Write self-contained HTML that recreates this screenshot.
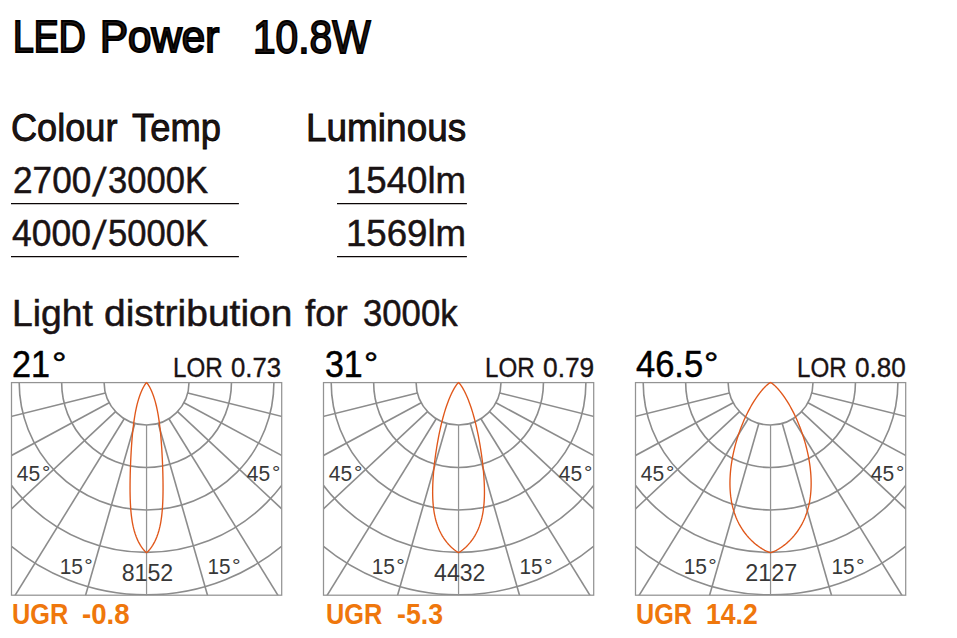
<!DOCTYPE html>
<html lang="en">
<head>
<meta charset="utf-8">
<title>LED Power 10.8W</title>
<style>
html,body{margin:0;padding:0;background:#fff;}
body{width:957px;height:638px;position:relative;overflow:hidden;font-family:"Liberation Sans",sans-serif;}
.t{position:absolute;white-space:pre;line-height:1;transform-origin:0 0;margin:0;}
svg{position:absolute;left:0;top:0;}
svg text{font-family:"Liberation Sans",sans-serif;}
</style>
</head>
<body>

<div class="t" style="left:12.93px;top:14px;font-size:45.20px;font-weight:400;color:#231815;-webkit-text-stroke:2.10px #000;transform:scaleX(0.8258);">LED</div>
<div class="t" style="left:99.96px;top:14px;font-size:45.20px;font-weight:400;color:#231815;-webkit-text-stroke:2.10px #000;transform:scaleX(0.9303);">Power</div>
<div class="t" style="left:253.16px;top:14px;font-size:46.20px;font-weight:400;color:#231815;-webkit-text-stroke:1.80px #000;transform:scaleX(0.8805);">10.8W</div>
<div class="t" style="left:11.21px;top:109px;font-size:38.40px;font-weight:400;color:#1f1514;-webkit-text-stroke:0.80px #000;transform:scaleX(0.9412);">Colour</div>
<div class="t" style="left:131.53px;top:109px;font-size:38.40px;font-weight:400;color:#1f1514;-webkit-text-stroke:0.80px #000;transform:scaleX(0.9472);">Temp</div>
<div class="t" style="left:306.01px;top:109px;font-size:38.40px;font-weight:400;color:#1f1514;-webkit-text-stroke:0.80px #000;transform:scaleX(0.9624);">Luminous</div>
<div class="t" style="left:12.60px;top:162px;font-size:37.60px;font-weight:400;color:#1a1314;-webkit-text-stroke:0.50px #1a1314;transform:scaleX(0.9364);">2700</div>
<div class="t" style="left:96.31px;top:162px;font-size:40.53px;font-weight:400;color:#1a1314;-webkit-text-stroke:0.30px #1a1314;transform:skewX(-6.84deg) scaleX(1.0000);">/</div>
<div class="t" style="left:107.67px;top:162px;font-size:37.60px;font-weight:400;color:#1a1314;-webkit-text-stroke:0.50px #1a1314;transform:scaleX(0.9202);">3000K</div>
<div class="t" style="left:345.66px;top:162px;font-size:37.60px;font-weight:400;color:#1a1314;-webkit-text-stroke:0.50px #1a1314;transform:scaleX(0.9746);">1540lm</div>
<div class="t" style="left:12.00px;top:215px;font-size:37.60px;font-weight:400;color:#1a1314;-webkit-text-stroke:0.50px #1a1314;transform:scaleX(0.9437);">4000</div>
<div class="t" style="left:96.31px;top:215px;font-size:40.53px;font-weight:400;color:#1a1314;-webkit-text-stroke:0.30px #1a1314;transform:skewX(-6.84deg) scaleX(1.0000);">/</div>
<div class="t" style="left:107.67px;top:215px;font-size:37.60px;font-weight:400;color:#1a1314;-webkit-text-stroke:0.50px #1a1314;transform:scaleX(0.9202);">5000K</div>
<div class="t" style="left:345.66px;top:215px;font-size:37.60px;font-weight:400;color:#1a1314;-webkit-text-stroke:0.50px #1a1314;transform:scaleX(0.9746);">1569lm</div>
<div class="t" style="left:11.93px;top:295px;font-size:37.60px;font-weight:400;color:#1a1314;-webkit-text-stroke:0.50px #1a1314;transform:scaleX(0.9933);">Light</div>
<div class="t" style="left:104.33px;top:295px;font-size:37.60px;font-weight:400;color:#1a1314;-webkit-text-stroke:0.50px #1a1314;transform:scaleX(1.0367);">distribution</div>
<div class="t" style="left:304.95px;top:295px;font-size:37.60px;font-weight:400;color:#1a1314;-webkit-text-stroke:0.50px #1a1314;transform:scaleX(0.9749);">for</div>
<div class="t" style="left:363.26px;top:295px;font-size:37.60px;font-weight:400;color:#1a1314;-webkit-text-stroke:0.50px #1a1314;transform:scaleX(0.9238);">3000k</div>
<div class="t" style="left:12.45px;top:346px;font-size:37.60px;font-weight:400;color:#000;-webkit-text-stroke:0.50px #000;transform:scaleX(0.9082);">21</div>
<div class="t" style="left:324.69px;top:346px;font-size:37.60px;font-weight:400;color:#000;-webkit-text-stroke:0.50px #000;transform:scaleX(0.9023);">31</div>
<div class="t" style="left:635.71px;top:346px;font-size:37.60px;font-weight:400;color:#000;-webkit-text-stroke:0.50px #000;transform:scaleX(0.9174);">46.5</div>
<div class="t" style="left:51.84px;top:347px;font-size:32.00px;font-weight:400;color:#000;-webkit-text-stroke:0.50px #000;transform:scaleX(1.1368);">°</div>
<div class="t" style="left:364.29px;top:347px;font-size:32.00px;font-weight:400;color:#000;-webkit-text-stroke:0.50px #000;transform:scaleX(1.1053);">°</div>
<div class="t" style="left:703.86px;top:347px;font-size:32.00px;font-weight:400;color:#000;-webkit-text-stroke:0.50px #000;transform:scaleX(1.1263);">°</div>
<div class="t" style="left:173.09px;top:354px;font-size:27.80px;font-weight:400;color:#1a1314;-webkit-text-stroke:0.35px #1a1314;transform:scaleX(0.8690);">LOR</div>
<div class="t" style="left:230.87px;top:354px;font-size:27.80px;font-weight:400;color:#1a1314;-webkit-text-stroke:0.35px #1a1314;transform:scaleX(0.9259);">0.73</div>
<div class="t" style="left:485.09px;top:354px;font-size:27.80px;font-weight:400;color:#1a1314;-webkit-text-stroke:0.35px #1a1314;transform:scaleX(0.8690);">LOR</div>
<div class="t" style="left:542.85px;top:354px;font-size:27.80px;font-weight:400;color:#1a1314;-webkit-text-stroke:0.35px #1a1314;transform:scaleX(0.9470);">0.79</div>
<div class="t" style="left:797.09px;top:354px;font-size:27.80px;font-weight:400;color:#1a1314;-webkit-text-stroke:0.35px #1a1314;transform:scaleX(0.8690);">LOR</div>
<div class="t" style="left:854.86px;top:354px;font-size:27.80px;font-weight:400;color:#1a1314;-webkit-text-stroke:0.35px #1a1314;transform:scaleX(0.9411);">0.80</div>
<div class="t" style="left:11.81px;top:599px;font-size:30.20px;font-weight:700;color:#ef770c;transform:scaleX(0.8385);">UGR</div>
<div class="t" style="left:81.84px;top:599px;font-size:30.20px;font-weight:700;color:#ef770c;transform:scaleX(0.9157);">-0.8</div>
<div class="t" style="left:326.41px;top:599px;font-size:30.20px;font-weight:700;color:#ef770c;transform:scaleX(0.8385);">UGR</div>
<div class="t" style="left:396.97px;top:599px;font-size:30.20px;font-weight:700;color:#ef770c;transform:scaleX(0.8839);">-5.3</div>
<div class="t" style="left:636.42px;top:599px;font-size:30.20px;font-weight:700;color:#ef770c;transform:scaleX(0.8339);">UGR</div>
<div class="t" style="left:705.84px;top:599px;font-size:30.20px;font-weight:700;color:#ef770c;transform:scaleX(0.8817);">14.2</div>
<svg width="957" height="638" viewBox="0 0 957 638">
<defs>
<clipPath id="c_d1"><rect x="11.50" y="382.60" width="270.20" height="212.60"/></clipPath>
<clipPath id="c_d2"><rect x="323.50" y="382.60" width="270.20" height="212.60"/></clipPath>
<clipPath id="c_d3"><rect x="635.50" y="382.60" width="270.20" height="212.60"/></clipPath>
</defs>
<line x1="11.0" y1="203.50" x2="238.9" y2="203.50" stroke="#0b0606" stroke-width="1.25"/>
<line x1="337.0" y1="203.50" x2="466.9" y2="203.50" stroke="#0b0606" stroke-width="1.25"/>
<line x1="11.0" y1="256.50" x2="238.9" y2="256.50" stroke="#0b0606" stroke-width="1.25"/>
<line x1="337.0" y1="256.50" x2="466.9" y2="256.50" stroke="#0b0606" stroke-width="1.25"/>
<g fill="none" stroke="#8c8c8c" stroke-width="1.6" clip-path="url(#c_d1)">
<circle cx="146.55" cy="382.60" r="42.45"/>
<circle cx="146.55" cy="382.60" r="84.90"/>
<circle cx="146.55" cy="382.60" r="127.35"/>
<circle cx="146.55" cy="382.60" r="169.80"/>
<circle cx="146.55" cy="382.60" r="212.25"/>
<circle cx="146.55" cy="382.60" r="254.70"/>
<circle cx="146.55" cy="382.60" r="297.15"/>
<line x1="146.55" y1="425.05" x2="146.55" y2="782.60" stroke="#939393" stroke-width="1.25"/>
<line x1="134.85" y1="423.41" x2="36.31" y2="767.11"/>
<line x1="158.25" y1="423.41" x2="256.79" y2="767.11"/>
<line x1="124.24" y1="418.71" x2="-63.68" y2="722.90"/>
<line x1="168.86" y1="418.71" x2="356.78" y2="722.90"/>
<line x1="115.54" y1="411.59" x2="-145.69" y2="655.72"/>
<line x1="177.56" y1="411.59" x2="438.79" y2="655.72"/>
<line x1="109.19" y1="402.76" x2="-205.47" y2="572.55"/>
<line x1="183.91" y1="402.76" x2="498.57" y2="572.55"/>
<line x1="105.37" y1="392.91" x2="-241.47" y2="479.77"/>
<line x1="187.73" y1="392.91" x2="534.57" y2="479.77"/>
</g>
<rect x="11.50" y="382.60" width="270.20" height="212.60" fill="none" stroke="#939393" stroke-width="1.25"/>
<path d="M146.55 382.60L147.12 383.19L147.57 383.77L147.98 384.36L148.36 384.94L148.73 385.53L149.08 386.12L149.41 386.70L149.73 387.29L150.04 387.88L150.34 388.46L150.63 389.05L150.91 389.63L151.18 390.22L151.44 390.81L151.70 391.39L151.95 391.98L152.19 392.57L152.42 393.15L152.65 393.74L152.87 394.32L153.09 394.91L153.30 395.50L153.51 396.08L153.71 396.67L153.91 397.26L154.10 397.84L154.29 398.43L154.47 399.01L154.65 399.60L155.31 401.91L155.92 404.21L156.48 406.52L156.99 408.82L157.46 411.13L157.89 413.43L158.29 415.74L158.66 418.04L159.01 420.35L159.33 422.65L159.62 424.96L159.90 427.26L160.16 429.57L160.40 431.87L160.62 434.18L160.83 436.48L161.03 438.79L161.22 441.09L161.39 443.40L161.55 445.70L161.71 448.01L161.85 450.31L161.98 452.62L162.11 454.92L162.23 457.23L162.34 459.53L162.44 461.84L162.54 464.14L162.63 466.45L162.71 468.75L162.78 471.06L162.85 473.36L162.90 475.67L162.95 477.97L162.99 480.28L163.02 482.58L163.04 484.89L163.05 487.19L163.05 489.50L163.03 491.80L163.00 494.11L162.95 496.41L162.89 498.72L162.81 501.02L162.71 503.33L162.58 505.63L162.43 507.94L162.26 510.24L162.05 512.55L161.81 514.85L161.53 517.16L161.21 519.46L160.84 521.77L160.42 524.07L159.94 526.38L159.40 528.68L158.79 530.99L158.09 533.29L157.31 535.60L157.05 536.29L156.80 536.96L156.53 537.62L156.27 538.26L156.00 538.89L155.73 539.51L155.46 540.11L155.18 540.70L154.90 541.27L154.63 541.83L154.34 542.38L154.06 542.91L153.78 543.42L153.49 543.93L153.21 544.42L152.93 544.89L152.65 545.35L152.36 545.80L152.08 546.23L151.81 546.65L151.53 547.05L151.26 547.44L150.99 547.81L150.72 548.17L150.46 548.52L150.20 548.85L149.95 549.17L149.70 549.48L149.45 549.77L149.22 550.04L148.99 550.31L148.77 550.55L148.55 550.79L148.34 551.01L148.15 551.21L147.96 551.40L147.78 551.58L147.60 551.74L147.44 551.89L147.30 552.03L147.16 552.15L147.03 552.25L146.92 552.35L146.82 552.42L146.73 552.49L146.66 552.54L146.60 552.57L146.57 552.59L146.55 552.60L146.53 552.59L146.50 552.57L146.44 552.54L146.37 552.49L146.28 552.42L146.18 552.35L146.07 552.25L145.94 552.15L145.80 552.03L145.66 551.89L145.50 551.74L145.32 551.58L145.14 551.40L144.95 551.21L144.76 551.01L144.55 550.79L144.33 550.55L144.11 550.31L143.88 550.04L143.65 549.77L143.40 549.48L143.15 549.17L142.90 548.85L142.64 548.52L142.38 548.17L142.11 547.81L141.84 547.44L141.57 547.05L141.29 546.65L141.02 546.23L140.74 545.80L140.45 545.35L140.17 544.89L139.89 544.42L139.61 543.93L139.32 543.42L139.04 542.91L138.76 542.38L138.47 541.83L138.20 541.27L137.92 540.70L137.64 540.11L137.37 539.51L137.10 538.89L136.83 538.26L136.57 537.62L136.30 536.96L136.05 536.29L135.79 535.60L135.01 533.29L134.31 530.99L133.70 528.68L133.16 526.38L132.68 524.07L132.26 521.77L131.89 519.46L131.57 517.16L131.29 514.85L131.05 512.55L130.84 510.24L130.67 507.94L130.52 505.63L130.39 503.33L130.29 501.02L130.21 498.72L130.15 496.41L130.10 494.11L130.07 491.80L130.05 489.50L130.05 487.19L130.06 484.89L130.08 482.58L130.11 480.28L130.15 477.97L130.20 475.67L130.25 473.36L130.32 471.06L130.39 468.75L130.47 466.45L130.56 464.14L130.66 461.84L130.76 459.53L130.87 457.23L130.99 454.92L131.12 452.62L131.25 450.31L131.39 448.01L131.55 445.70L131.71 443.40L131.88 441.09L132.07 438.79L132.27 436.48L132.48 434.18L132.70 431.87L132.94 429.57L133.20 427.26L133.48 424.96L133.77 422.65L134.09 420.35L134.44 418.04L134.81 415.74L135.21 413.43L135.64 411.13L136.11 408.82L136.62 406.52L137.18 404.21L137.79 401.91L138.45 399.60L138.63 399.01L138.81 398.43L139.00 397.84L139.19 397.26L139.39 396.67L139.59 396.08L139.80 395.50L140.01 394.91L140.23 394.32L140.45 393.74L140.68 393.15L140.91 392.57L141.15 391.98L141.40 391.39L141.66 390.81L141.92 390.22L142.19 389.63L142.47 389.05L142.76 388.46L143.06 387.88L143.37 387.29L143.69 386.70L144.02 386.12L144.37 385.53L144.74 384.94L145.12 384.36L145.53 383.77L145.98 383.19L146.55 382.60Z" fill="none" stroke="#e0571a" stroke-width="1.35" stroke-linejoin="miter"/>
<text transform="translate(16.77 481.00) scale(0.9219 1)" font-size="22.80" fill="#383838">45</text>
<text transform="translate(41.92 479.26) scale(1.1071 1)" font-size="18.86" fill="#383838">°</text>
<text transform="translate(246.77 481.00) scale(0.9219 1)" font-size="22.80" fill="#383838">45</text>
<text transform="translate(271.92 479.26) scale(1.1071 1)" font-size="18.86" fill="#383838">°</text>
<text transform="translate(59.69 574.00) scale(0.9169 1)" font-size="22.80" fill="#383838">15</text>
<text transform="translate(84.31 572.26) scale(1.1250 1)" font-size="18.86" fill="#383838">°</text>
<text transform="translate(207.51 574.00) scale(0.9082 1)" font-size="22.80" fill="#383838">15</text>
<text transform="translate(231.89 572.26) scale(1.1429 1)" font-size="18.86" fill="#383838">°</text>
<text transform="translate(121.73 581.00) scale(0.9991 1)" font-size="23.20" fill="#383838">8152</text>
<g fill="none" stroke="#8c8c8c" stroke-width="1.6" clip-path="url(#c_d2)">
<circle cx="458.55" cy="382.60" r="42.45"/>
<circle cx="458.55" cy="382.60" r="84.90"/>
<circle cx="458.55" cy="382.60" r="127.35"/>
<circle cx="458.55" cy="382.60" r="169.80"/>
<circle cx="458.55" cy="382.60" r="212.25"/>
<circle cx="458.55" cy="382.60" r="254.70"/>
<circle cx="458.55" cy="382.60" r="297.15"/>
<line x1="458.55" y1="425.05" x2="458.55" y2="782.60" stroke="#939393" stroke-width="1.25"/>
<line x1="446.85" y1="423.41" x2="348.31" y2="767.11"/>
<line x1="470.25" y1="423.41" x2="568.79" y2="767.11"/>
<line x1="436.24" y1="418.71" x2="248.32" y2="722.90"/>
<line x1="480.86" y1="418.71" x2="668.78" y2="722.90"/>
<line x1="427.54" y1="411.59" x2="166.31" y2="655.72"/>
<line x1="489.56" y1="411.59" x2="750.79" y2="655.72"/>
<line x1="421.19" y1="402.76" x2="106.53" y2="572.55"/>
<line x1="495.91" y1="402.76" x2="810.57" y2="572.55"/>
<line x1="417.37" y1="392.91" x2="70.53" y2="479.77"/>
<line x1="499.73" y1="392.91" x2="846.57" y2="479.77"/>
</g>
<rect x="323.50" y="382.60" width="270.20" height="212.60" fill="none" stroke="#939393" stroke-width="1.25"/>
<path d="M458.55 382.60L459.24 383.19L459.76 383.77L460.23 384.36L460.67 384.94L461.08 385.53L461.47 386.12L461.85 386.70L462.22 387.29L462.57 387.88L462.92 388.46L463.25 389.05L463.57 389.63L463.89 390.22L464.20 390.81L464.51 391.39L464.80 391.98L465.09 392.57L465.38 393.15L465.66 393.74L465.93 394.32L466.20 394.91L466.47 395.50L466.73 396.08L466.98 396.67L467.23 397.26L467.48 397.84L467.72 398.43L467.96 399.01L468.20 399.60L469.09 401.91L469.94 404.21L470.74 406.52L471.50 408.82L472.23 411.13L472.92 413.43L473.58 415.74L474.21 418.04L474.82 420.35L475.40 422.65L475.96 424.96L476.50 427.26L477.01 429.57L477.51 431.87L477.99 434.18L478.44 436.48L478.89 438.79L479.31 441.09L479.72 443.40L480.11 445.70L480.49 448.01L480.85 450.31L481.20 452.62L481.53 454.92L481.85 457.23L482.15 459.53L482.43 461.84L482.70 464.14L482.96 466.45L483.19 468.75L483.41 471.06L483.61 473.36L483.80 475.67L483.96 477.97L484.10 480.28L484.22 482.58L484.32 484.89L484.39 487.19L484.43 489.50L484.45 491.80L484.44 494.11L484.39 496.41L484.31 498.72L484.19 501.02L484.03 503.33L483.83 505.63L483.57 507.94L483.27 510.24L482.92 512.55L482.50 514.85L482.01 517.16L481.46 519.46L480.83 521.77L480.11 524.07L479.30 526.38L478.39 528.68L477.37 530.99L476.23 533.29L474.95 535.60L474.54 536.29L474.13 536.96L473.71 537.62L473.28 538.26L472.86 538.89L472.43 539.51L472.00 540.11L471.56 540.70L471.12 541.27L470.68 541.83L470.25 542.38L469.81 542.91L469.37 543.42L468.93 543.93L468.49 544.42L468.05 544.89L467.62 545.35L467.19 545.80L466.76 546.23L466.34 546.65L465.92 547.05L465.51 547.44L465.10 547.81L464.70 548.17L464.30 548.52L463.92 548.85L463.54 549.17L463.17 549.48L462.81 549.77L462.46 550.04L462.12 550.31L461.79 550.55L461.47 550.79L461.17 551.01L460.87 551.21L460.59 551.40L460.33 551.58L460.08 551.74L459.85 551.89L459.63 552.03L459.43 552.15L459.24 552.25L459.08 552.35L458.93 552.42L458.81 552.49L458.71 552.54L458.63 552.57L458.57 552.59L458.55 552.60L458.53 552.59L458.47 552.57L458.39 552.54L458.29 552.49L458.17 552.42L458.02 552.35L457.86 552.25L457.67 552.15L457.47 552.03L457.25 551.89L457.02 551.74L456.77 551.58L456.51 551.40L456.23 551.21L455.93 551.01L455.63 550.79L455.31 550.55L454.98 550.31L454.64 550.04L454.29 549.77L453.93 549.48L453.56 549.17L453.18 548.85L452.80 548.52L452.40 548.17L452.00 547.81L451.59 547.44L451.18 547.05L450.76 546.65L450.34 546.23L449.91 545.80L449.48 545.35L449.05 544.89L448.61 544.42L448.17 543.93L447.73 543.42L447.29 542.91L446.85 542.38L446.42 541.83L445.98 541.27L445.54 540.70L445.10 540.11L444.67 539.51L444.24 538.89L443.82 538.26L443.39 537.62L442.97 536.96L442.56 536.29L442.15 535.60L440.87 533.29L439.73 530.99L438.71 528.68L437.80 526.38L436.99 524.07L436.27 521.77L435.64 519.46L435.09 517.16L434.60 514.85L434.18 512.55L433.83 510.24L433.53 507.94L433.27 505.63L433.07 503.33L432.91 501.02L432.79 498.72L432.71 496.41L432.66 494.11L432.65 491.80L432.67 489.50L432.71 487.19L432.78 484.89L432.88 482.58L433.00 480.28L433.14 477.97L433.30 475.67L433.49 473.36L433.69 471.06L433.91 468.75L434.14 466.45L434.40 464.14L434.67 461.84L434.95 459.53L435.25 457.23L435.57 454.92L435.90 452.62L436.25 450.31L436.61 448.01L436.99 445.70L437.38 443.40L437.79 441.09L438.21 438.79L438.66 436.48L439.11 434.18L439.59 431.87L440.09 429.57L440.60 427.26L441.14 424.96L441.70 422.65L442.28 420.35L442.89 418.04L443.52 415.74L444.18 413.43L444.87 411.13L445.60 408.82L446.36 406.52L447.16 404.21L448.01 401.91L448.90 399.60L449.14 399.01L449.38 398.43L449.62 397.84L449.87 397.26L450.12 396.67L450.37 396.08L450.63 395.50L450.90 394.91L451.17 394.32L451.44 393.74L451.72 393.15L452.01 392.57L452.30 391.98L452.59 391.39L452.90 390.81L453.21 390.22L453.53 389.63L453.85 389.05L454.18 388.46L454.53 387.88L454.88 387.29L455.25 386.70L455.63 386.12L456.02 385.53L456.43 384.94L456.87 384.36L457.34 383.77L457.86 383.19L458.55 382.60Z" fill="none" stroke="#e0571a" stroke-width="1.35" stroke-linejoin="miter"/>
<text transform="translate(328.77 481.00) scale(0.9219 1)" font-size="22.80" fill="#383838">45</text>
<text transform="translate(353.92 479.26) scale(1.1071 1)" font-size="18.86" fill="#383838">°</text>
<text transform="translate(558.77 481.00) scale(0.9219 1)" font-size="22.80" fill="#383838">45</text>
<text transform="translate(583.92 479.26) scale(1.1071 1)" font-size="18.86" fill="#383838">°</text>
<text transform="translate(371.69 574.00) scale(0.9169 1)" font-size="22.80" fill="#383838">15</text>
<text transform="translate(396.31 572.26) scale(1.1250 1)" font-size="18.86" fill="#383838">°</text>
<text transform="translate(519.51 574.00) scale(0.9082 1)" font-size="22.80" fill="#383838">15</text>
<text transform="translate(543.89 572.26) scale(1.1429 1)" font-size="18.86" fill="#383838">°</text>
<text transform="translate(434.09 581.00) scale(0.9919 1)" font-size="23.20" fill="#383838">4432</text>
<g fill="none" stroke="#8c8c8c" stroke-width="1.6" clip-path="url(#c_d3)">
<circle cx="770.55" cy="382.60" r="42.45"/>
<circle cx="770.55" cy="382.60" r="84.90"/>
<circle cx="770.55" cy="382.60" r="127.35"/>
<circle cx="770.55" cy="382.60" r="169.80"/>
<circle cx="770.55" cy="382.60" r="212.25"/>
<circle cx="770.55" cy="382.60" r="254.70"/>
<circle cx="770.55" cy="382.60" r="297.15"/>
<line x1="770.55" y1="425.05" x2="770.55" y2="782.60" stroke="#939393" stroke-width="1.25"/>
<line x1="758.85" y1="423.41" x2="660.31" y2="767.11"/>
<line x1="782.25" y1="423.41" x2="880.79" y2="767.11"/>
<line x1="748.24" y1="418.71" x2="560.32" y2="722.90"/>
<line x1="792.86" y1="418.71" x2="980.78" y2="722.90"/>
<line x1="739.54" y1="411.59" x2="478.31" y2="655.72"/>
<line x1="801.56" y1="411.59" x2="1062.79" y2="655.72"/>
<line x1="733.19" y1="402.76" x2="418.53" y2="572.55"/>
<line x1="807.91" y1="402.76" x2="1122.57" y2="572.55"/>
<line x1="729.37" y1="392.91" x2="382.53" y2="479.77"/>
<line x1="811.73" y1="392.91" x2="1158.57" y2="479.77"/>
</g>
<rect x="635.50" y="382.60" width="270.20" height="212.60" fill="none" stroke="#939393" stroke-width="1.25"/>
<path d="M770.55 382.60L771.72 383.19L772.56 383.77L773.31 384.36L774.01 384.94L774.66 385.53L775.29 386.12L775.88 386.70L776.46 387.29L777.02 387.88L777.57 388.46L778.10 389.05L778.61 389.63L779.12 390.22L779.61 390.81L780.09 391.39L780.57 391.98L781.03 392.57L781.49 393.15L781.93 393.74L782.38 394.32L782.81 394.91L783.24 395.50L783.66 396.08L784.07 396.67L784.48 397.26L784.88 397.84L785.27 398.43L785.67 399.01L786.05 399.60L787.52 401.91L788.91 404.21L790.25 406.52L791.52 408.82L792.74 411.13L793.91 413.43L795.03 415.74L796.10 418.04L797.13 420.35L798.12 422.65L799.06 424.96L799.97 427.26L800.84 429.57L801.67 431.87L802.47 434.18L803.23 436.48L803.96 438.79L804.65 441.09L805.31 443.40L805.94 445.70L806.53 448.01L807.09 450.31L807.61 452.62L808.10 454.92L808.56 457.23L808.98 459.53L809.36 461.84L809.71 464.14L810.03 466.45L810.31 468.75L810.55 471.06L810.75 473.36L810.91 475.67L811.03 477.97L811.11 480.28L811.15 482.58L811.14 484.89L811.09 487.19L810.99 489.50L810.84 491.80L810.63 494.11L810.38 496.41L810.06 498.72L809.69 501.02L809.26 503.33L808.76 505.63L808.19 507.94L807.55 510.24L806.83 512.55L806.04 514.85L805.15 517.16L804.18 519.46L803.11 521.77L801.93 524.07L800.64 526.38L799.23 528.68L797.69 530.99L796.00 533.29L794.15 535.60L793.56 536.29L792.97 536.96L792.38 537.62L791.78 538.26L791.19 538.89L790.59 539.51L789.98 540.11L789.38 540.70L788.78 541.27L788.17 541.83L787.57 542.38L786.96 542.91L786.36 543.42L785.76 543.93L785.16 544.42L784.56 544.89L783.97 545.35L783.38 545.80L782.80 546.23L782.22 546.65L781.64 547.05L781.07 547.44L780.51 547.81L779.95 548.17L779.41 548.52L778.87 548.85L778.33 549.17L777.81 549.48L777.30 549.77L776.80 550.04L776.31 550.31L775.83 550.55L775.37 550.79L774.92 551.01L774.48 551.21L774.06 551.40L773.65 551.58L773.26 551.74L772.89 551.89L772.54 552.03L772.21 552.15L771.90 552.25L771.61 552.35L771.35 552.42L771.12 552.49L770.91 552.54L770.74 552.57L770.62 552.59L770.55 552.60L770.48 552.59L770.36 552.57L770.19 552.54L769.98 552.49L769.75 552.42L769.49 552.35L769.20 552.25L768.89 552.15L768.56 552.03L768.21 551.89L767.84 551.74L767.45 551.58L767.04 551.40L766.62 551.21L766.18 551.01L765.73 550.79L765.27 550.55L764.79 550.31L764.30 550.04L763.80 549.77L763.29 549.48L762.77 549.17L762.23 548.85L761.69 548.52L761.15 548.17L760.59 547.81L760.03 547.44L759.46 547.05L758.88 546.65L758.30 546.23L757.72 545.80L757.13 545.35L756.54 544.89L755.94 544.42L755.34 543.93L754.74 543.42L754.14 542.91L753.53 542.38L752.93 541.83L752.32 541.27L751.72 540.70L751.12 540.11L750.51 539.51L749.91 538.89L749.32 538.26L748.72 537.62L748.13 536.96L747.54 536.29L746.95 535.60L745.10 533.29L743.41 530.99L741.87 528.68L740.46 526.38L739.17 524.07L737.99 521.77L736.92 519.46L735.95 517.16L735.06 514.85L734.27 512.55L733.55 510.24L732.91 507.94L732.34 505.63L731.84 503.33L731.41 501.02L731.04 498.72L730.72 496.41L730.47 494.11L730.26 491.80L730.11 489.50L730.01 487.19L729.96 484.89L729.95 482.58L729.99 480.28L730.07 477.97L730.19 475.67L730.35 473.36L730.55 471.06L730.79 468.75L731.07 466.45L731.39 464.14L731.74 461.84L732.12 459.53L732.54 457.23L733.00 454.92L733.49 452.62L734.01 450.31L734.57 448.01L735.16 445.70L735.79 443.40L736.45 441.09L737.14 438.79L737.87 436.48L738.63 434.18L739.43 431.87L740.26 429.57L741.13 427.26L742.04 424.96L742.98 422.65L743.97 420.35L745.00 418.04L746.07 415.74L747.19 413.43L748.36 411.13L749.58 408.82L750.85 406.52L752.19 404.21L753.58 401.91L755.05 399.60L755.43 399.01L755.83 398.43L756.22 397.84L756.62 397.26L757.03 396.67L757.44 396.08L757.86 395.50L758.29 394.91L758.72 394.32L759.17 393.74L759.61 393.15L760.07 392.57L760.53 391.98L761.01 391.39L761.49 390.81L761.98 390.22L762.49 389.63L763.00 389.05L763.53 388.46L764.08 387.88L764.64 387.29L765.22 386.70L765.81 386.12L766.44 385.53L767.09 384.94L767.79 384.36L768.54 383.77L769.38 383.19L770.55 382.60Z" fill="none" stroke="#e0571a" stroke-width="1.35" stroke-linejoin="miter"/>
<text transform="translate(640.77 481.00) scale(0.9219 1)" font-size="22.80" fill="#383838">45</text>
<text transform="translate(665.92 479.26) scale(1.1071 1)" font-size="18.86" fill="#383838">°</text>
<text transform="translate(870.77 481.00) scale(0.9219 1)" font-size="22.80" fill="#383838">45</text>
<text transform="translate(895.92 479.26) scale(1.1071 1)" font-size="18.86" fill="#383838">°</text>
<text transform="translate(683.69 574.00) scale(0.9169 1)" font-size="22.80" fill="#383838">15</text>
<text transform="translate(708.31 572.26) scale(1.1250 1)" font-size="18.86" fill="#383838">°</text>
<text transform="translate(831.51 574.00) scale(0.9082 1)" font-size="22.80" fill="#383838">15</text>
<text transform="translate(855.89 572.26) scale(1.1429 1)" font-size="18.86" fill="#383838">°</text>
<text transform="translate(745.36 581.00) scale(1.0064 1)" font-size="23.20" fill="#383838">2127</text>
</svg>
</body>
</html>
